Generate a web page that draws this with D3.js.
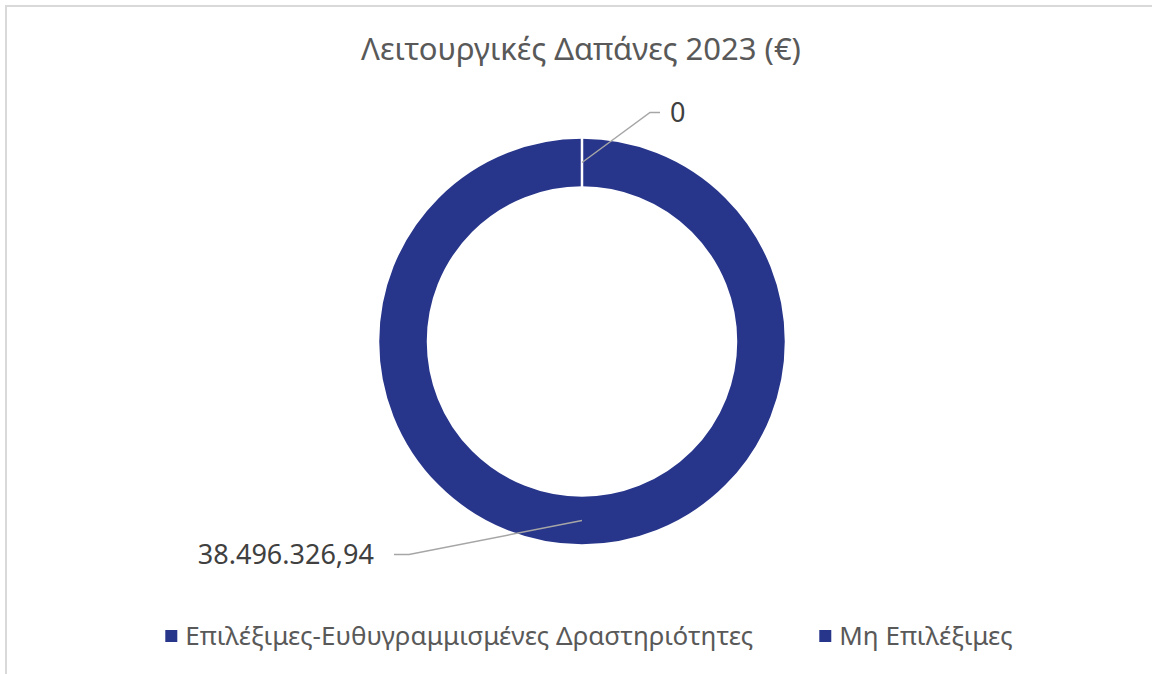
<!DOCTYPE html>
<html>
<head>
<meta charset="utf-8">
<script src="https://cdn.jsdelivr.net/npm/d3@7"></script>
<style>
  body { margin: 0; background: #fff; }
  svg { display: block; font-family: "Noto Sans", "Open Sans", sans-serif; }
</style>
</head>
<body>
<svg id="chart"></svg>
<script>
// Λειτουργικές Δαπάνες 2023 – donut with two categories
const title = 'Λειτουργικές Δαπάνες 2023 (€)';
const categories = ['Επιλέξιμες-Ευθυγραμμισμένες Δραστηριότητες', 'Μη Επιλέξιμες'];
const values = [0, 38496326.94];
const labels = ['0', '38.496.326,94'];
const colors = ['#27358a', '#27358a'];

let width = 1152,
    height = 674;

const svg = d3.select('#chart')
    .attr('width', width)
    .attr('height', height);

// chart area border (only top / left edges are in frame)
svg.append('rect')
    .attr('x', 6).attr('y', 6)
    .attr('width', width + 20).attr('height', height + 20)
    .attr('fill', '#fff')
    .attr('stroke', '#d9d9d9')
    .attr('stroke-width', 2);

svg.append('text')
    .attr('x', 581)
    .attr('y', 60)
    .attr('text-anchor', 'middle')
    .attr('fill', '#595959')
    .attr('font-size', 31)
    .text(title);

const cx = 582, cy = 341.5,
      outerR = 204, innerR = 154;

const pie = d3.pie().sort(null).value((d) => d)
    .startAngle(0).endAngle(2 * Math.PI);
const arcs = pie(values);

const arc = d3.arc().innerRadius(innerR).outerRadius(outerR);

const g = svg.append('g').attr('transform', `translate(${cx},${cy})`);

// fills first, then white slice borders on top
g.selectAll('path.fill')
    .data(arcs)
    .enter().append('path')
      .attr('class', 'fill')
      .attr('d', arc)
      .attr('fill', (d, i) => colors[i]);

g.selectAll('path.edge')
    .data(arcs)
    .enter().append('path')
      .attr('class', 'edge')
      .attr('d', arc)
      .attr('fill', 'none')
      .attr('stroke', '#fff')
      .attr('stroke-width', 2.5);

// data labels with leader lines; offsets relative to the slice centroid
const labelPos = [
    { dx: 68, dy: -50, run: 10, gap: 10, anchor: 'start' },
    { dx: -173, dy: 34, run: -15, gap: -20, anchor: 'end' }
];

arcs.forEach((d, i) => {
    const [px, py] = arc.centroid(d);
    const p = labelPos[i];
    const bx = px + p.dx, by = py + p.dy;
    g.append('polyline')
        .attr('points', [[px, py], [bx, by], [bx + p.run, by]].map((q) => q.join(',')).join(' '))
        .attr('fill', 'none')
        .attr('stroke', '#a6a6a6')
        .attr('stroke-width', 1.5);
    g.append('text')
        .attr('x', bx + p.run + p.gap)
        .attr('y', by)
        .attr('dy', '0.35em')
        .attr('text-anchor', p.anchor)
        .attr('fill', '#404040')
        .attr('font-size', 27)
        .text(labels[i]);
});

// legend, centred under the chart
const legend = svg.append('g').attr('class', 'legend');
const items = legend.selectAll('g')
    .data(categories)
    .enter().append('g');
items.append('rect')
    .attr('width', 12).attr('height', 12)
    .attr('y', -6)
    .attr('fill', (d, i) => colors[i]);
items.append('text')
    .attr('x', 20)
    .attr('dy', '0.35em')
    .attr('fill', '#595959')
    .attr('font-size', 26)
    .text((d) => d);

let xoff = 0;
const itemGap = 66;
items.each(function () {
    const w = 20 + d3.select(this).select('text').node().getComputedTextLength();
    d3.select(this).attr('transform', `translate(${xoff},0)`);
    xoff += w + itemGap;
});
const total = xoff - itemGap;
legend.attr('transform', `translate(${589 - total / 2},636)`);
</script>
</body>
</html>
